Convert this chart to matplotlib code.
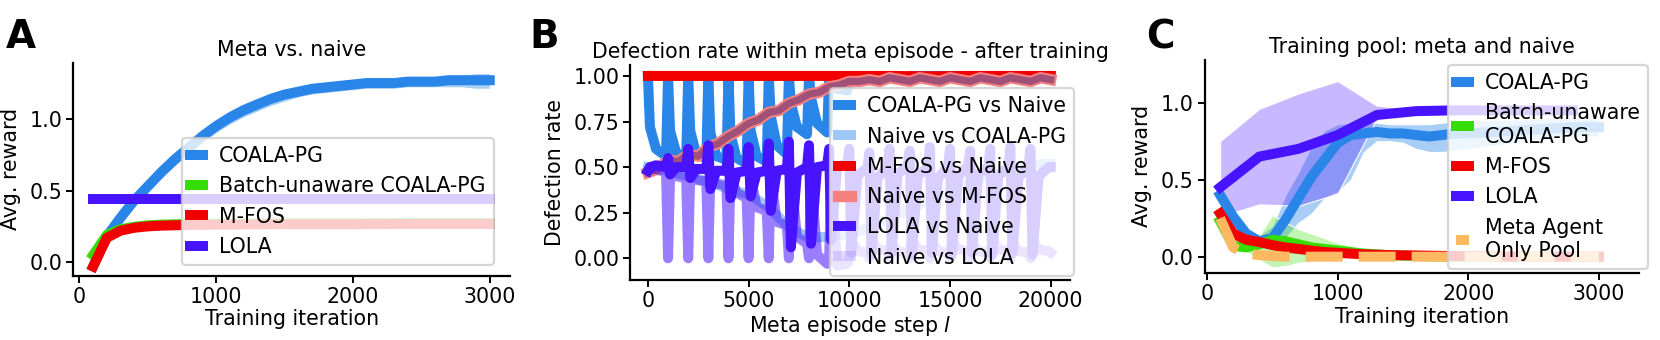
import matplotlib
matplotlib.use('Agg')
import matplotlib.pyplot as plt
from matplotlib.colors import to_rgba

FS = 14.8
plt.rcParams['font.family'] = 'DejaVu Sans'
plt.rcParams['font.size'] = FS

# ---- panel A: meta vs. naive ----
iters_a = list(range(100, 3001, 100))
coala_a = [-0.03, 0.18, 0.31, 0.43, 0.53, 0.63, 0.72, 0.80, 0.88, 0.95,
           1.01, 1.06, 1.10, 1.14, 1.17, 1.19, 1.21, 1.22, 1.23, 1.24,
           1.25, 1.25, 1.25, 1.26, 1.26, 1.26, 1.27, 1.27, 1.27, 1.27]
coala_a_lo = [-0.06, 0.14, 0.26, 0.38, 0.48, 0.58, 0.67, 0.75, 0.83, 0.90,
              0.96, 1.01, 1.05, 1.09, 1.12, 1.15, 1.17, 1.18, 1.19, 1.20,
              1.21, 1.21, 1.21, 1.22, 1.22, 1.22, 1.22, 1.22, 1.21, 1.21]
coala_a_hi = [0.00, 0.22, 0.36, 0.48, 0.58, 0.68, 0.77, 0.85, 0.93, 1.00,
              1.06, 1.11, 1.15, 1.18, 1.21, 1.23, 1.25, 1.26, 1.27, 1.28,
              1.29, 1.29, 1.29, 1.30, 1.30, 1.30, 1.31, 1.31, 1.32, 1.32]
iters_a_short = [100, 200, 300, 400, 500, 600, 800, 1000, 1500, 2000, 2500, 3000]
batch_a = [0.05, 0.19, 0.23, 0.247, 0.257, 0.262, 0.266, 0.268, 0.271, 0.271, 0.273, 0.273]
mfos_a = [-0.03, 0.17, 0.22, 0.24, 0.25, 0.255, 0.26, 0.262, 0.265, 0.265, 0.267, 0.267]
lola_a_x = [100, 3000]
lola_a = [0.44, 0.44]

# ---- panel B: defection rate within a meta episode ----
steps_b = [k * 1000 + p for k in range(20) for p in (0, 100, 400, 900)] + [20000]
coala_vs_naive = [
    1.00, 0.72, 0.60, 0.56,
    1.00, 0.70, 0.58, 0.55,
    1.00, 0.70, 0.57, 0.55,
    1.00, 0.69, 0.56, 0.54,
    1.00, 0.68, 0.55, 0.52,
    1.00, 0.70, 0.56, 0.53,
    1.00, 0.78, 0.62, 0.57,
    1.00, 0.85, 0.72, 0.68,
    1.00, 0.88, 0.74, 0.69,
    1.00, 0.97, 0.93, 0.92,
    1.00, 1.00, 0.99, 0.99,
    1.00, 1.00, 0.99, 0.99,
    1.00, 1.00, 1.00, 0.99,
    1.00, 1.00, 1.00, 1.00,
    1.00, 1.00, 1.00, 1.00,
    1.00, 1.00, 1.00, 1.00,
    1.00, 1.00, 1.00, 1.00,
    1.00, 1.00, 1.00, 1.00,
    1.00, 1.00, 1.00, 1.00,
    1.00, 1.00, 1.00, 1.00,
    1.00]
lola_vs_naive = [
    0.48, 0.50, 0.51, 0.50,
    0.55, 0.46, 0.50, 0.50,
    0.60, 0.44, 0.49, 0.49,
    0.62, 0.38, 0.48, 0.48,
    0.60, 0.33, 0.47, 0.48,
    0.61, 0.34, 0.47, 0.48,
    0.63, 0.26, 0.48, 0.49,
    0.64, 0.06, 0.47, 0.50,
    0.62, 0.08, 0.50, 0.51,
    0.60, 0.10, 0.50, 0.52,
    0.60, 0.03, 0.45, 0.50,
    0.58, 0.02, 0.44, 0.50,
    0.60, 0.03, 0.46, 0.51,
    0.59, 0.02, 0.45, 0.50,
    0.61, 0.03, 0.44, 0.50,
    0.60, 0.02, 0.45, 0.51,
    0.59, 0.03, 0.46, 0.50,
    0.60, 0.02, 0.45, 0.50,
    0.61, 0.03, 0.44, 0.51,
    0.60, 0.02, 0.45, 0.50,
    0.50]
naive_vs_lola = [
    0.48, 0.50, 0.49, 0.47,
    0.00, 0.45, 0.45, 0.44,
    0.00, 0.46, 0.43, 0.42,
    0.00, 0.46, 0.41, 0.40,
    0.00, 0.45, 0.36, 0.33,
    0.00, 0.45, 0.28, 0.26,
    0.00, 0.45, 0.20, 0.18,
    0.00, 0.45, 0.12, 0.08,
    0.00, 0.45, 0.02, -0.03,
    0.00, 0.44, -0.04, -0.03,
    0.00, 0.10, 0.04, 0.03,
    0.00, 0.10, 0.05, 0.04,
    0.00, 0.08, 0.04, 0.03,
    0.00, 0.10, 0.05, 0.04,
    0.00, 0.09, 0.04, 0.03,
    0.00, 0.10, 0.05, 0.04,
    0.00, 0.08, 0.04, 0.03,
    0.00, 0.10, 0.05, 0.04,
    0.00, 0.09, 0.04, 0.03,
    0.00, 0.10, 0.05, 0.04,
    0.03]
steps_nc = list(range(0, 20001, 1000))
naive_vs_coala = [0.50, 0.48, 0.45, 0.42, 0.38, 0.35, 0.28, 0.17, 0.11, 0.12, 0.13,
                  0.17, 0.22, 0.27, 0.32, 0.37, 0.42, 0.46, 0.49, 0.51, 0.52]
steps_nm = list(range(0, 20001, 500))
naive_vs_mfos = [0.47, 0.49, 0.54, 0.53, 0.57, 0.56, 0.61, 0.63, 0.67, 0.70,
                 0.74, 0.76, 0.80, 0.81, 0.85, 0.87, 0.90, 0.91, 0.94, 0.95,
                 0.97, 0.97, 0.98, 0.97, 0.99, 0.98, 0.97, 0.99, 0.98, 0.97,
                 0.99, 0.98, 0.97, 0.99, 0.98, 0.97, 0.99, 0.98, 0.97, 0.99, 0.98]
steps_mf = list(range(0, 20001, 2000))
mfos_vs_naive = [1.0, 1.0, 1.0, 1.0, 1.0, 1.0, 1.0, 0.998, 1.0, 1.0, 1.0]

# ---- panel C: training pool meta and naive ----
iters_c_lola = [100, 400, 700, 1000, 1300, 1600, 1900, 2200, 2500, 2800]
lola_c = [0.45, 0.65, 0.70, 0.79, 0.92, 0.945, 0.95, 0.95, 0.95, 0.95]
lola_c_lo = [0.26, 0.34, 0.33, 0.41, 0.90, 0.93, 0.93, 0.93, 0.93, 0.93]
lola_c_hi = [0.75, 0.96, 1.06, 1.14, 0.98, 0.96, 0.97, 0.97, 0.97, 0.97]
iters_c_coala = [100, 200, 300, 400, 500, 600, 700, 800, 900, 1000, 1100, 1200, 1300,
                 1400, 1500, 1600, 1700, 1800, 1900, 2000, 2200, 2400, 2600, 2800, 3000]
coala_c = [0.40, 0.26, 0.15, 0.10, 0.12, 0.24, 0.38, 0.52, 0.63, 0.74, 0.79, 0.80, 0.81,
           0.80, 0.80, 0.79, 0.78, 0.79, 0.80, 0.80, 0.81, 0.82, 0.83, 0.84, 0.84]
coala_c_lo = [0.36, 0.22, 0.11, 0.06, 0.06, 0.12, 0.22, 0.28, 0.38, 0.42, 0.50, 0.68, 0.75,
              0.75, 0.74, 0.70, 0.68, 0.68, 0.69, 0.70, 0.72, 0.75, 0.77, 0.78, 0.78]
coala_c_hi = [0.44, 0.30, 0.19, 0.14, 0.20, 0.40, 0.55, 0.72, 0.82, 0.86, 0.87, 0.87, 0.87,
              0.86, 0.86, 0.86, 0.86, 0.87, 0.88, 0.88, 0.89, 0.89, 0.90, 0.90, 0.89]
iters_c = [100, 200, 300, 400, 500, 600, 700, 800, 900, 1000, 1200, 1400, 1600, 1800, 2000, 2500, 3000]
batch_c = [0.23, 0.07, 0.06, 0.08, 0.11, 0.10, 0.08, 0.06, 0.05, 0.04, 0.02, 0.01, 0.005, 0.0, 0.0, 0.0, 0.0]
batch_c_lo = [0.21, 0.05, 0.03, -0.02, -0.07, -0.06, -0.04, -0.03, -0.02, -0.01, 0.0, 0.0, 0.0, -0.01, -0.01, -0.01, -0.01]
batch_c_hi = [0.25, 0.09, 0.09, 0.14, 0.27, 0.22, 0.18, 0.15, 0.12, 0.09, 0.05, 0.02, 0.01, 0.01, 0.01, 0.01, 0.01]
mfos_c = [0.28, 0.15, 0.11, 0.095, 0.075, 0.06, 0.05, 0.04, 0.03, 0.025, 0.015, 0.01, 0.008, 0.005, 0.003, 0.0, 0.0]
iters_c_pool = [100, 200, 300, 400, 500, 600, 800, 1000, 1500, 2000, 2500, 3000]
pool_c = [0.25, 0.06, 0.02, 0.01, 0.005, 0.0, 0.0, 0.0, 0.0, 0.0, 0.0, 0.0]

blue = '#2a85e9'
light_blue = '#9fc8f6'
green = '#36dc06'
red = '#f20000'
salmon = '#f58080'
maroon = '#8c4677'
purple = '#4814ff'
orange = '#ffb862'
lw = 7.2

fig = plt.figure(figsize=(16.6, 3.4), dpi=100)
W, H = 1660, 340
axA = fig.add_axes([73.3 / W, (H - 275.5) / H, 436.7 / W, 212.2 / H])
axB = fig.add_axes([630.4 / W, (H - 280) / H, 440 / W, 215 / H])
axC = fig.add_axes([1204.6 / W, (H - 272.7) / H, 434.7 / W, 212.7 / H])

for ax in (axA, axB, axC):
    ax.spines['top'].set_visible(False)
    ax.spines['right'].set_visible(False)
    ax.spines['left'].set_linewidth(1.6)
    ax.spines['bottom'].set_linewidth(1.6)
    ax.tick_params(length=5, width=1.4, labelsize=FS, pad=3)


def style_legend(leg):
    leg.get_frame().set_linewidth(1.6)
    leg.get_frame().set_edgecolor('0.8')


# A
axA.fill_between(iters_a, coala_a_lo, coala_a_hi, facecolor=to_rgba(blue, 0.4),
                 edgecolor='white', linewidth=0.8)
axA.plot(iters_a, coala_a, color=blue, lw=lw, label='COALA-PG')
axA.plot(iters_a_short, batch_a, color=green, lw=lw, label='Batch-unaware COALA-PG')
axA.plot(iters_a_short, mfos_a, color=red, lw=lw, label='M-FOS')
axA.plot(lola_a_x, lola_a, color=purple, lw=lw, label='LOLA')
axA.set_xlim(-45, 3148)
axA.set_ylim(-0.093, 1.388)
axA.set_xticks([0, 1000, 2000, 3000])
axA.set_yticks([0.0, 0.5, 1.0])
axA.set_xlabel('Training iteration', labelpad=2)
axA.set_ylabel('Avg. reward', labelpad=6)
axA.set_title('Meta vs. naive', pad=5, fontsize=FS)
leg = axA.legend(loc='upper left', bbox_to_anchor=(0.249, 0.649), borderaxespad=0,
                 handlelength=0.6, framealpha=0.8, fontsize=FS)
style_legend(leg)

# B
axB.plot(steps_b, coala_vs_naive, color=blue, lw=lw, label='COALA-PG vs Naive')
axB.plot(steps_nc, naive_vs_coala, color=light_blue, lw=lw, label='Naive vs COALA-PG')
axB.plot(steps_mf, mfos_vs_naive, color=red, lw=lw, label='M-FOS vs Naive')
axB.plot(steps_nm, naive_vs_mfos, color=salmon, lw=lw + 1, label='Naive vs M-FOS')
axB.plot(steps_nm, naive_vs_mfos, color=maroon, lw=lw - 2, alpha=0.8)
axB.plot(steps_b, lola_vs_naive, color=purple, lw=lw, label='LOLA vs Naive')
axB.plot(steps_b, naive_vs_lola, color=purple, lw=lw, alpha=0.55, label='Naive vs LOLA')
axB.set_xlim(-870, 20980)
axB.set_ylim(-0.119, 1.06)
axB.set_xticks([0, 5000, 10000, 15000, 20000])
axB.set_yticks([0.0, 0.25, 0.5, 0.75, 1.0])
axB.set_xlabel('Meta episode step $l$', labelpad=2)
axB.set_ylabel('Defection rate', labelpad=6)
axB.set_title('Defection rate within meta episode - after training', pad=5, fontsize=FS)
leg = axB.legend(loc='upper left', bbox_to_anchor=(0.4536, 0.893), borderaxespad=0,
                 handlelength=0.6, framealpha=0.8, fontsize=FS)
style_legend(leg)
leg.legend_handles[5].set_alpha(0.15)

# C
axC.fill_between(iters_c_coala, coala_c_lo, coala_c_hi, facecolor=to_rgba(blue, 0.4),
                 edgecolor='white', linewidth=0.8)
axC.fill_between(iters_c, batch_c_lo, batch_c_hi, facecolor=to_rgba(green, 0.3),
                 edgecolor='white', linewidth=0.8)
axC.fill_between(iters_c_lola, lola_c_lo, lola_c_hi, facecolor=to_rgba(purple, 0.3),
                 edgecolor='white', linewidth=0.8)
axC.plot(iters_c_coala, coala_c, color=blue, lw=lw, label='COALA-PG')
axC.plot(iters_c, batch_c, color=green, lw=lw, label='Batch-unaware\nCOALA-PG')
axC.plot(iters_c, mfos_c, color=red, lw=lw, label='M-FOS')
axC.plot(iters_c_lola, lola_c, color=purple, lw=lw, label='LOLA')
axC.plot(iters_c_pool, pool_c, color=orange, lw=lw, ls='--', label='Meta Agent\nOnly Pool')
axC.set_xlim(-19, 3309)
axC.set_ylim(-0.104, 1.277)
axC.set_xticks([0, 1000, 2000, 3000])
axC.set_yticks([0.0, 0.5, 1.0])
axC.set_xlabel('Training iteration', labelpad=2)
axC.set_ylabel('Avg. reward', labelpad=6)
axC.set_title('Training pool: meta and naive', pad=5, fontsize=FS)
leg = axC.legend(loc='upper left', bbox_to_anchor=(0.560, 0.9765), borderaxespad=0,
                 handlelength=0.6, framealpha=0.8, fontsize=FS)
style_legend(leg)

for x, letter in ((5.4, 'A'), (529, 'B'), (1146, 'C')):
    fig.text(x / W, 1 - 48.3 / H, letter, fontsize=28, fontweight='bold', va='baseline')

fig.savefig('out.png', dpi=100)
